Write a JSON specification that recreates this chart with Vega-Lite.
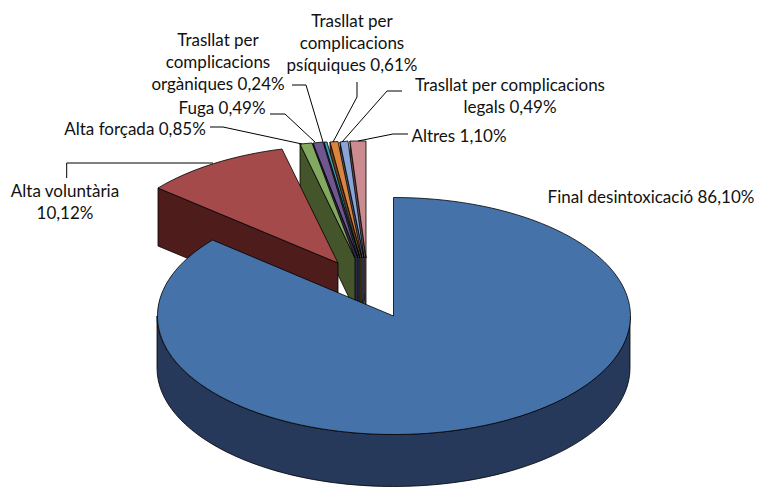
{"$schema":"https://vega.github.io/schema/vega-lite/v6.json","width":758,"height":489,"autosize":{"type":"fit","contains":"padding"},"padding":0,"background":"white","view":{"stroke":null},"config":{"view":{"stroke":null}},
"data":{"values":[
{"ordre":1,"categoria":"Altres","percentatge":1.10,"etiqueta":"Altres 1,10%"},
{"ordre":2,"categoria":"Trasllat legals","percentatge":0.49,"etiqueta":"Trasllat per complicacions\nlegals 0,49%"},
{"ordre":3,"categoria":"Trasllat psíquiques","percentatge":0.61,"etiqueta":"Trasllat per\ncomplicacions\npsíquiques 0,61%"},
{"ordre":4,"categoria":"Trasllat orgàniques","percentatge":0.24,"etiqueta":"Trasllat per\ncomplicacions\norgàniques 0,24%"},
{"ordre":5,"categoria":"Fuga","percentatge":0.49,"etiqueta":"Fuga 0,49%"},
{"ordre":6,"categoria":"Alta forçada","percentatge":0.85,"etiqueta":"Alta forçada 0,85%"},
{"ordre":7,"categoria":"Alta voluntària","percentatge":10.12,"etiqueta":"Alta voluntària\n10,12%"},
{"ordre":8,"categoria":"Final desintoxicació","percentatge":86.10,"etiqueta":"Final desintoxicació 86,10%"}
]},
"resolve":{"scale":{"x":"independent","y":"independent","shape":"independent","fill":"independent"}},
"layer":[
{"mark":{"type":"point","filled":true,"stroke":"#000000","strokeWidth":0.8,"opacity":1,"size":4},
"encoding":{
"x":{"field":"ordre","type":"quantitative","axis":null,"scale":{"domain":[1,2,3,4,5,6,7,8],"range":[366,364,362,360,358,355,338,393.5],"nice":false,"zero":false}},
"y":{"field":"ordre","type":"quantitative","axis":null,"scale":{"domain":[1,2,3,4,5,6,7,8],"range":[258,258,258,258,258,258,263,316],"nice":false,"zero":false}},
"shape":{"field":"categoria","type":"nominal","legend":null,"sort":null,"scale":{"domain":["Altres","Trasllat legals","Trasllat psíquiques","Trasllat orgàniques","Fuga","Alta forçada","Alta voluntària","Final desintoxicació"],"range":[
"M-16,-117L0,0L0,52L-16,-65Z",
"M-24,-116L0,0L0,52L-24,-64Z",
"M-32,-116L0,0L0,52L-32,-64Z",
"M-36,-116L0,0L0,52L-36,-64Z",
"M-45,-115L0,0L0,52L-45,-63Z",
"M-55,-114L0,0L0,52L-55,-62Z",
"M-180,-75L0,0L0,58L-180,-17Z",
"M-236.5,0L-236.5,52A236.5,118.5 0 0 0 236.5,52L236.5,0A236.5,118.5 0 0 1 -236.5,0Z"]}},
"fill":{"field":"categoria","type":"nominal","legend":null,"scale":{"domain":["Altres","Trasllat legals","Trasllat psíquiques","Trasllat orgàniques","Fuga","Alta forçada","Alta voluntària","Final desintoxicació"],"range":["#66484A","#445470","#6B3F1A","#1F4A56","#352645","#44552B","#4F1C1C","#26395B"]}}}},
{"mark":{"type":"point","filled":true,"stroke":"#000000","strokeWidth":0.8,"opacity":1,"size":4},
"encoding":{
"x":{"field":"ordre","type":"quantitative","axis":null,"scale":{"domain":[1,2,3,4,5,6,7,8],"range":[366,364,362,360,358,355,338,393.5],"nice":false,"zero":false}},
"y":{"field":"ordre","type":"quantitative","axis":null,"scale":{"domain":[1,2,3,4,5,6,7,8],"range":[258,258,258,258,258,258,263,316],"nice":false,"zero":false}},
"shape":{"field":"categoria","type":"nominal","legend":null,"scale":{"domain":["Altres","Trasllat legals","Trasllat psíquiques","Trasllat orgàniques","Fuga","Alta forçada","Alta voluntària","Final desintoxicació"],"range":[
"M0,0L0,-117L-16,-117Z",
"M0,0L-16,-117L-24,-116Z",
"M0,0L-24,-116.5L-32,-116Z",
"M0,0L-33,-116L-36,-116Z",
"M0,0L-35,-116L-45,-115Z",
"M0,0L-43,-115L-55,-114Z",
"M0,0L-56,-114A236.5,118.5 0 0 0 -180,-75Z",
"M0,0L0,-118.5A236.5,118.5 0 1 1 -181,-76Z"]}},
"fill":{"field":"categoria","type":"nominal","legend":null,"scale":{"domain":["Altres","Trasllat legals","Trasllat psíquiques","Trasllat orgàniques","Fuga","Alta forçada","Alta voluntària","Final desintoxicació"],"range":["#CC8C8F","#89A4D5","#DB843D","#3F9CB5","#6F568E","#83A85F","#A54A4A","#4573A9"]}}}},
{"transform":[{"filter":"datum.ordre < 8"}],
"mark":{"type":"point","filled":false,"stroke":"#000000","strokeWidth":1,"opacity":1,"size":4},
"encoding":{
"x":{"field":"ordre","type":"quantitative","axis":null,"scale":{"domain":[1,2,3,4,5,6,7,8],"range":[366,364,362,360,358,355,338,393.5],"nice":false,"zero":false}},
"y":{"field":"ordre","type":"quantitative","axis":null,"scale":{"domain":[1,2,3,4,5,6,7,8],"range":[258,258,258,258,258,258,263,316],"nice":false,"zero":false}},
"shape":{"field":"categoria","type":"nominal","legend":null,"scale":{"domain":["Altres","Trasllat legals","Trasllat psíquiques","Trasllat orgàniques","Fuga","Alta forçada","Alta voluntària"],"range":[
"M42,-124L27,-124L-8,-117",
"M38,-167L23,-167L-22,-116",
"M-5,-176L-5,-161L-29,-116",
"M-68,-173L-54,-173L-37,-116",
"M-88,-144L-73,-144L-43,-116",
"M-145,-131L-132,-131L-53,-114",
"M-271.3,-85L-271.3,-100L-125,-100"]}}}},
{"mark":{"type":"text","font":"Lato","fontSize":17,"lineBreak":"\n","lineHeight":22,"align":"center","baseline":"middle","color":"#111111"},
"encoding":{
"x":{"field":"ordre","type":"quantitative","axis":null,"scale":{"domain":[1,2,3,4,5,6,7,8],"range":[459,510,352,218,222,135,65,651],"nice":false,"zero":false}},
"y":{"field":"ordre","type":"quantitative","axis":null,"scale":{"domain":[1,2,3,4,5,6,7,8],"range":[136.5,86,22,41,109,130,192,198],"nice":false,"zero":false}},
"text":{"field":"etiqueta","type":"nominal"}}}
]}
